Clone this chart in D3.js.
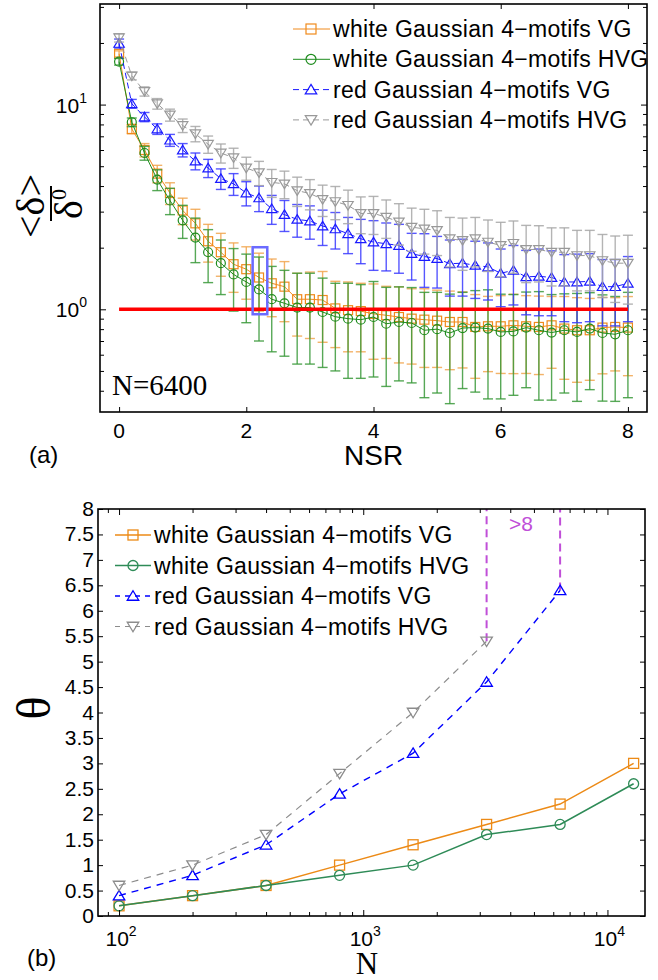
<!DOCTYPE html>
<html>
<head>
<meta charset="utf-8">
<script src="https://cdn.jsdelivr.net/npm/d3@7"></script>
<style>
  body { margin: 0; background: #fff; }
  text { font-family: "Liberation Sans", Arial, sans-serif; fill: #000; }
  .serif { font-family: "Liberation Serif", "Times New Roman", serif; }
</style>
</head>
<body>
<svg id="fig" width="658" height="980"></svg>
<script>
// ---------- panel (a) data ----------
var nsr = [0, 0.2, 0.4, 0.6, 0.8, 1.0, 1.2, 1.4, 1.6, 1.8, 2.0, 2.2, 2.4, 2.6, 2.8, 3.0, 3.2, 3.4, 3.6, 3.8, 4.0,
           4.2, 4.4, 4.6, 4.8, 5.0, 5.2, 5.4, 5.6, 5.8, 6.0, 6.2, 6.4, 6.6, 6.8, 7.0, 7.2, 7.4, 7.6, 7.8, 8.0];

var whiteVG = [17.7, 7.6, 6.0, 4.6, 3.7, 3.04, 2.63, 2.15, 1.9, 1.66, 1.57, 1.43, 1.34, 1.29, 1.12, 1.12, 1.11, 1.01, 0.99, 0.98, 0.95,
               0.935, 0.917, 0.90, 0.89, 0.88, 0.867, 0.867, 0.82, 0.826, 0.826, 0.835, 0.826, 0.82, 0.835, 0.805, 0.79, 0.79, 0.814, 0.82, 0.814];
var whiteVGerr = [0.6, 0.4, 0.45, 0.45, 0.45, 0.45, 0.45, 0.45, 0.45, 0.45, 0.45, 0.45, 0.42, 0.42, 0.38, 0.4, 0.42, 0.36, 0.37, 0.36, 0.38,
                  0.36, 0.37, 0.36, 0.37, 0.36, 0.36, 0.35, 0.36, 0.33, 0.34, 0.35, 0.34, 0.34, 0.32, 0.35, 0.35, 0.34, 0.33, 0.32, 0.34];

var whiteHVG = [16.2, 8.2, 5.8, 4.3, 3.4, 2.72, 2.24, 1.9, 1.68, 1.48, 1.36, 1.25, 1.12, 1.07, 1.02, 1.02, 0.97, 0.92, 0.90, 0.89, 0.917,
                0.85, 0.867, 0.857, 0.79, 0.80, 0.766, 0.81, 0.814, 0.805, 0.775, 0.78, 0.814, 0.79, 0.77, 0.79, 0.775, 0.805, 0.766, 0.755, 0.79];
var whiteHVGerr = [0.6, 0.4, 0.45, 0.5, 0.5, 0.5, 0.55, 0.55, 0.5, 0.5, 0.5, 0.55, 0.5, 0.48, 0.48, 0.48, 0.45, 0.42, 0.44, 0.43, 0.45,
                   0.43, 0.42, 0.42, 0.42, 0.41, 0.42, 0.40, 0.42, 0.44, 0.41, 0.40, 0.40, 0.43, 0.41, 0.40, 0.42, 0.40, 0.41, 0.40, 0.42];

var redVG = [19.9, 10.1, 8.7, 7.6, 6.7, 6.0, 5.3, 4.9, 4.35, 4.1, 3.7, 3.5, 3.1, 2.9, 2.75, 2.7, 2.55, 2.47, 2.34, 2.21, 2.13,
             2.09, 2.05, 1.87, 1.81, 1.77, 1.67, 1.68, 1.64, 1.61, 1.50, 1.55, 1.44, 1.45, 1.43, 1.36, 1.36, 1.37, 1.29, 1.29, 1.34];
var redVGerr = [1.0, 0.5, 0.45, 0.45, 0.45, 0.45, 0.5, 0.5, 0.5, 0.5, 0.5, 0.5, 0.5, 0.5, 0.5, 0.5, 0.5, 0.5, 0.47, 0.54, 0.58,
                0.55, 0.55, 0.48, 0.53, 0.5, 0.51, 0.52, 0.51, 0.5, 0.47, 0.5, 0.5, 0.52, 0.5, 0.49, 0.5, 0.5, 0.46, 0.46, 0.47];

var redHVG = [21.2, 13.8, 11.6, 10.1, 8.9, 7.9, 7.2, 6.4, 5.8, 5.5, 4.9, 4.65, 4.17, 4.1, 3.8, 3.68, 3.44, 3.36, 3.22, 2.94, 2.94,
              2.82, 2.67, 2.52, 2.47, 2.43, 2.21, 2.17, 2.21, 2.13, 2.05, 2.10, 1.96, 1.96, 1.90, 1.90, 1.83, 1.83, 1.73, 1.68, 1.68];
var redHVGerr = [1.0, 0.6, 0.6, 0.6, 0.6, 0.6, 0.62, 0.62, 0.62, 0.62, 0.63, 0.63, 0.65, 0.63, 0.62, 0.62, 0.6, 0.62, 0.6, 0.6, 0.62,
                 0.6, 0.61, 0.6, 0.61, 0.6, 0.6, 0.62, 0.6, 0.6, 0.61, 0.6, 0.61, 0.6, 0.6, 0.6, 0.6, 0.6, 0.59, 0.6, 0.62];

var highlightNSR = [2.1, 2.33];
var highlightVal = [0.946, 2.01];
var refLevel = 1;

// ---------- panel (b) data ----------
var sizesN = [100, 200, 400, 800, 1600, 3200, 6400, 12800];
var thetaWhiteVG  = [0.2, 0.4, 0.6, 1.0, 1.4, 1.8, 2.2, 3.0];
var thetaWhiteHVG = [0.2, 0.4, 0.6, 0.8, 1.0, 1.6, 1.8, 2.6];
var thetaRedVG    = [0.4, 0.8, 1.4, 2.4, 3.2, 4.6, 6.4];
var thetaRedHVG   = [0.6, 1.0, 1.6, 2.8, 4.0, 5.4];
var overflowN    = [3200, 6400];
var overflowFrom = [5.4, 6.4];

var legendNames = ["white Gaussian 4\u2212motifs VG", "white Gaussian 4\u2212motifs HVG",
                   "red Gaussian 4\u2212motifs VG", "red Gaussian 4\u2212motifs HVG"];
var yTicksB = [0, 0.5, 1, 1.5, 2, 2.5, 3, 3.5, 4, 4.5, 5, 5.5, 6, 6.5, 7, 7.5, 8];

var svg = d3.select("#fig");

function marker(g, type, cx, cy, color, s, sw) {
  var h = s / 2;
  if (type === "square") {
    g.append("rect").attr("x", cx - h).attr("y", cy - h).attr("width", s).attr("height", s)
      .attr("fill", "none").attr("stroke", color).attr("stroke-width", sw);
  } else if (type === "circle") {
    g.append("circle").attr("cx", cx).attr("cy", cy).attr("r", h)
      .attr("fill", "none").attr("stroke", color).attr("stroke-width", sw);
  } else {
    var d = type === "up"
      ? "M" + cx + "," + (cy - h * 1.05) + "L" + (cx + h * 1.15) + "," + (cy + h * 0.85) + "L" + (cx - h * 1.15) + "," + (cy + h * 0.85) + "Z"
      : "M" + cx + "," + (cy + h * 1.05) + "L" + (cx + h * 1.15) + "," + (cy - h * 0.85) + "L" + (cx - h * 1.15) + "," + (cy - h * 0.85) + "Z";
    g.append("path").attr("d", d).attr("fill", "none").attr("stroke", color).attr("stroke-width", sw);
  }
}

// =================== panel (a) ===================
var xa = d3.scaleLinear().domain([-0.3, 8.3]).range([100, 647]);
var ya = d3.scaleLog().domain([0.315, 31]).range([412, 4]);

var seriesA = [
  {v: whiteVG,  e: whiteVGerr,  color: "#f08a1c", bar: "#f2a650", type: "square", dash: null},
  {v: whiteHVG, e: whiteHVGerr, color: "#1e8c1e", bar: "#3a9a3a", type: "circle", dash: null},
  {v: redVG,    e: redVGerr,    color: "#1a1aff", bar: "#3a3aff", type: "up",     dash: "6,4"},
  {v: redHVG,   e: redHVGerr,   color: "#999999", bar: "#a8a8a8", type: "down",   dash: "6,4"}
];

var pa = svg.append("g");

seriesA.forEach(function(s) {
  var g = pa.append("g");
  nsr.forEach(function(x, i) {
    var cx = xa(x), lo = ya(s.v[i] - s.e[i]), hi = ya(s.v[i] + s.e[i]);
    g.append("line").attr("x1", cx).attr("x2", cx).attr("y1", lo).attr("y2", hi)
      .attr("stroke", s.bar).attr("stroke-width", 1.4).attr("opacity", 0.85);
    [lo, hi].forEach(function(yy) {
      g.append("line").attr("x1", cx - 5).attr("x2", cx + 5).attr("y1", yy).attr("y2", yy)
        .attr("stroke", s.bar).attr("stroke-width", 1.4).attr("opacity", 0.85);
    });
  });
  var line = d3.line().x(function(d) { return xa(d[0]); }).y(function(d) { return ya(d[1]); });
  g.append("path").datum(nsr.map(function(x, i) { return [x, s.v[i]]; }))
    .attr("d", line).attr("fill", "none").attr("stroke", s.color).attr("stroke-width", 1)
    .attr("stroke-dasharray", s.dash);
  nsr.forEach(function(x, i) { marker(g, s.type, xa(x), ya(s.v[i]), s.color, 9, 1.2); });
});

// red reference line
pa.append("line").attr("x1", xa(0)).attr("x2", xa(8)).attr("y1", ya(refLevel)).attr("y2", ya(refLevel))
  .attr("stroke", "#ff0000").attr("stroke-width", 3.5);

// highlight box
pa.append("rect").attr("x", xa(highlightNSR[0])).attr("y", ya(highlightVal[1]))
  .attr("width", xa(highlightNSR[1]) - xa(highlightNSR[0])).attr("height", ya(highlightVal[0]) - ya(highlightVal[1]))
  .attr("fill", "none").attr("stroke", "#6b6bff").attr("stroke-width", 2.5);

// axes (a)
var logTicksA = ya.ticks();
var majA = logTicksA.filter(function(t) { return Math.abs(Math.log10(t) - Math.round(Math.log10(t))) < 1e-9; });
var minA = logTicksA.filter(function(t) { return majA.indexOf(t) < 0; });

function axisGroup(axis, tx, ty) {
  var g = svg.append("g").attr("transform", "translate(" + tx + "," + ty + ")").call(axis);
  g.select(".domain").remove();
  g.selectAll("line").attr("stroke", "#000").attr("stroke-width", 1);
  return g;
}
axisGroup(d3.axisRight(ya).tickValues(majA).tickSize(6).tickFormat(""), 100, 0);
axisGroup(d3.axisRight(ya).tickValues(minA).tickSize(4).tickFormat(""), 100, 0);
axisGroup(d3.axisLeft(ya).tickValues(majA).tickSize(6).tickFormat(""), 647, 0);
axisGroup(d3.axisLeft(ya).tickValues(minA).tickSize(4).tickFormat(""), 647, 0);
axisGroup(d3.axisTop(xa).tickValues([0, 2, 4, 6, 8]).tickSize(5).tickFormat(""), 0, 412);
axisGroup(d3.axisBottom(xa).tickValues([0, 2, 4, 6, 8]).tickSize(5).tickFormat(""), 0, 4);

svg.append("rect").attr("x", 100).attr("y", 4).attr("width", 547).attr("height", 408)
  .attr("fill", "none").attr("stroke", "#000").attr("stroke-width", 1.6);

[0, 2, 4, 6, 8].forEach(function(t) {
  svg.append("text").attr("x", xa(t)).attr("y", 438).attr("text-anchor", "middle")
    .attr("font-size", 21).text(t);
});
majA.forEach(function(t) {
  var yy = ya(t);
  var tx = svg.append("text").attr("x", 87).attr("y", yy + 8).attr("text-anchor", "end").attr("font-size", 21);
  tx.append("tspan").text("10");
  tx.append("tspan").attr("font-size", 14).attr("dy", -10).text(Math.round(Math.log10(t)));
});

// legend (a)
seriesA.forEach(function(s, i) {
  var cy = 29 + 30.3 * i;
  svg.append("line").attr("x1", 293).attr("x2", 330).attr("y1", cy).attr("y2", cy)
    .attr("stroke", s.color).attr("stroke-width", 1).attr("stroke-dasharray", s.dash);
  marker(svg, s.type, 311, cy, s.color, 10, 1.2);
  svg.append("text").attr("x", 333).attr("y", cy + 8).attr("font-size", 23).attr("letter-spacing", 0.3)
    .text(legendNames[i]);
});

svg.append("text").attr("class", "serif").attr("x", 112).attr("y", 395).attr("font-size", 29).text("N=6400");
svg.append("text").attr("x", 344).attr("y", 465).attr("font-size", 28).text("NSR");
svg.append("text").attr("x", 29).attr("y", 463).attr("font-size", 24).text("(a)");

// y label (a): <δ> over δ⁰, rotated
var yl = svg.append("g").attr("transform", "translate(51,206) rotate(-90)");
yl.append("text").attr("class", "serif").attr("x", 0).attr("y", -7).attr("text-anchor", "middle")
  .attr("font-size", 40).text("<\u03b4>");
yl.append("line").attr("x1", -15).attr("x2", 20).attr("y1", 0).attr("y2", 0).attr("stroke", "#000").attr("stroke-width", 2);
var den = yl.append("text").attr("class", "serif").attr("x", 2).attr("y", 31).attr("text-anchor", "middle").attr("font-size", 40);
den.append("tspan").text("\u03b4");
den.append("tspan").attr("font-size", 22).attr("dy", -16).text("0");

// =================== panel (b) ===================
var xb = d3.scaleLog().domain([82, 14250]).range([98, 645]);
var yb = d3.scaleLinear().domain([0, 8]).range([916, 509]);

var seriesB = [
  {v: thetaWhiteVG,  color: "#ec8a16", type: "square", dash: null, w: 1.5},
  {v: thetaWhiteHVG, color: "#2e8b57", type: "circle", dash: null, w: 1.5},
  {v: thetaRedVG,    color: "#0000ff", type: "up",     dash: "7,6", w: 1.4},
  {v: thetaRedHVG,   color: "#8c8c8c", type: "down",   dash: "7,6", w: 1.2}
];

var pb = svg.append("g");
// overflow markers (>8)
overflowN.forEach(function(n, i) {
  pb.append("line").attr("x1", xb(n)).attr("x2", xb(n)).attr("y1", yb(overflowFrom[i])).attr("y2", yb(8))
    .attr("stroke", "#c04fd8").attr("stroke-width", 2).attr("stroke-dasharray", "8,5");
});
svg.append("text").attr("x", 509).attr("y", 531).attr("font-size", 21)
  .style("fill", "#c04fd8").text(">8");

seriesB.forEach(function(s) {
  var pts = s.v.map(function(v, i) { return [sizesN[i], v]; });
  var line = d3.line().x(function(d) { return xb(d[0]); }).y(function(d) { return yb(d[1]); });
  pb.append("path").datum(pts).attr("d", line).attr("fill", "none").attr("stroke", s.color)
    .attr("stroke-width", s.w).attr("stroke-dasharray", s.dash);
  pts.forEach(function(d) { marker(pb, s.type, xb(d[0]), yb(d[1]), s.color, 10, 1.3); });
});

var logTicksB = xb.ticks();
var majB = logTicksB.filter(function(t) { return Math.abs(Math.log10(t) - Math.round(Math.log10(t))) < 1e-9; });
var minB = logTicksB.filter(function(t) { return majB.indexOf(t) < 0; });

axisGroup(d3.axisTop(xb).tickValues(majB).tickSize(6).tickFormat(""), 0, 916);
axisGroup(d3.axisTop(xb).tickValues(minB).tickSize(4).tickFormat(""), 0, 916);
axisGroup(d3.axisBottom(xb).tickValues(majB).tickSize(6).tickFormat(""), 0, 509);
axisGroup(d3.axisBottom(xb).tickValues(minB).tickSize(4).tickFormat(""), 0, 509);
axisGroup(d3.axisRight(yb).tickValues(yTicksB).tickSize(5).tickFormat(""), 98, 0);
axisGroup(d3.axisLeft(yb).tickValues(yTicksB).tickSize(5).tickFormat(""), 645, 0);

svg.append("rect").attr("x", 98).attr("y", 509).attr("width", 547).attr("height", 407)
  .attr("fill", "none").attr("stroke", "#000").attr("stroke-width", 1.6);

yTicksB.forEach(function(t) {
  svg.append("text").attr("x", 94).attr("y", yb(t) + 7).attr("text-anchor", "end").attr("font-size", 21).text(t);
});
majB.forEach(function(t) {
  var tx = svg.append("text").attr("x", xb(t) + 2).attr("y", 946).attr("text-anchor", "middle").attr("font-size", 21);
  tx.append("tspan").text("10");
  tx.append("tspan").attr("font-size", 14).attr("dy", -10).text(Math.round(Math.log10(t)));
});

// legend (b)
seriesB.forEach(function(s, i) {
  var cy = 535 + 30.5 * i;
  svg.append("line").attr("x1", 115).attr("x2", 151).attr("y1", cy).attr("y2", cy)
    .attr("stroke", s.color).attr("stroke-width", s.w).attr("stroke-dasharray", s.dash ? "5,5" : null);
  marker(svg, s.type, 133, cy, s.color, 10, 1.3);
  svg.append("text").attr("x", 154).attr("y", cy + 8).attr("font-size", 23).attr("letter-spacing", 0.3)
    .text(legendNames[i]);
});

svg.append("text").attr("class", "serif").attr("x", 367).attr("y", 974).attr("text-anchor", "middle")
  .attr("font-size", 31).text("N");
svg.append("text").attr("x", 27).attr("y", 966).attr("font-size", 24).text("(b)");
svg.append("text").attr("class", "serif").attr("transform", "translate(50,708) rotate(-90)")
  .attr("text-anchor", "middle").attr("font-size", 48).text("\u03b8");
</script>
</body>
</html>
